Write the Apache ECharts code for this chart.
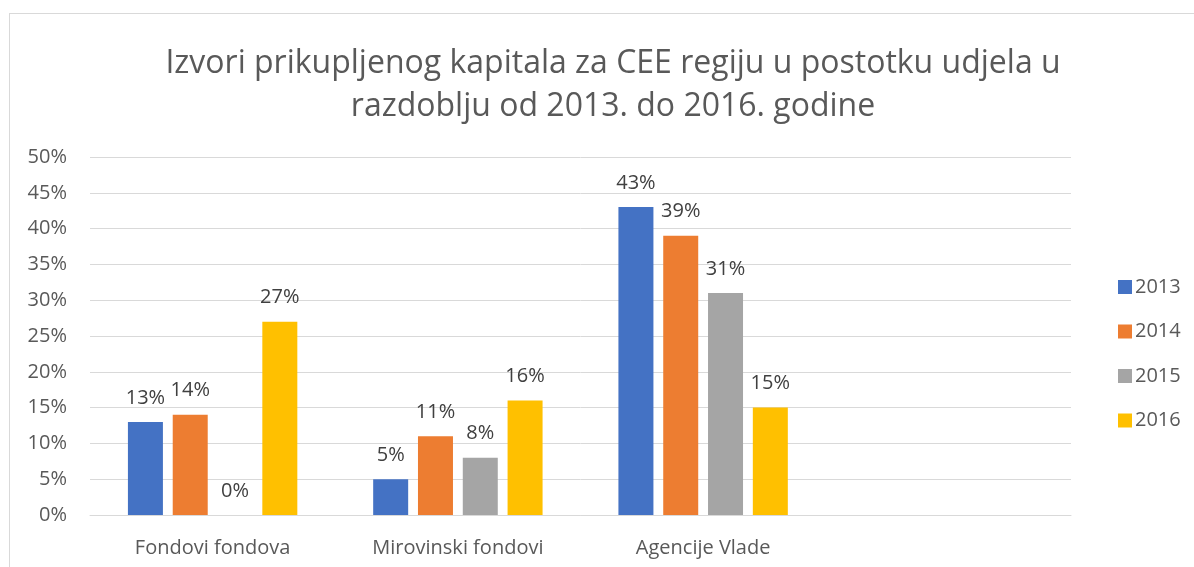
<!DOCTYPE html>
<html>
<head>
<meta charset="utf-8">
<script src="https://cdn.jsdelivr.net/npm/echarts@6/dist/echarts.min.js"></script>
<style>
    html, body { margin: 0; padding: 0; background: #fff; }
    #frame { position: absolute; left: 9px; top: 13px; width: 1300px; height: 700px; border: 1px solid #d9d9d9; }
    #chart { position: absolute; left: 0; top: 0; width: 1194px; height: 567px; }
</style>
</head>
<body>
<div id="frame"></div>
<div id="chart"></div>
<script>
// categories (the last slot is empty in the original chart)
let categories = ["Fondovi fondova", "Mirovinski fondovi", "Agencije Vlade", ""];
let years = ["2013", "2014", "2015", "2016"];
let values2013 = [13, 5, 43, null];
let values2014 = [14, 11, 39, null];
let values2015 = [0, 8, 31, null];
let values2016 = [27, 16, 15, null];
let colors = ["#4472C4", "#ED7D31", "#A5A5A5", "#FFC000"];

let chart = echarts.init(document.getElementById("chart"));
let font = "'Open Sans', 'Liberation Sans', sans-serif";

function makeSeries(name, data, color) {
    return {
        name: name,
        type: "bar",
        data: data,
        barWidth: 35,
        barGap: "28%",
        itemStyle: { color: color },
        label: {
            show: true,
            position: "top",
            distance: 14,
            formatter: "{c}%",
            color: "#404040",
            fontSize: 20,
            fontFamily: font
        }
    };
}

let option = {
    animation: false,
    title: {
        text: "Izvori prikupljenog kapitala za CEE regiju u postotku udjela u\nrazdoblju od 2013. do 2016. godine",
        left: 608,
        textAlign: "center",
        top: 37,
        textStyle: {
            color: "#595959",
            fontSize: 32,
            fontWeight: "normal",
            fontFamily: font,
            lineHeight: 43
        }
    },
    legend: {
        orient: "vertical",
        left: 1113,
        top: 272,
        itemWidth: 14,
        itemHeight: 14,
        itemGap: 24.5,
        icon: "rect",
        textStyle: { color: "#595959", fontSize: 20, lineHeight: 20, fontFamily: font, padding: [0, 0, 0, -2] },
        data: years
    },
    grid: { left: 90, right: 123, top: 157, bottom: 52 },
    xAxis: {
        type: "category",
        data: categories,
        axisLine: { lineStyle: { color: "#d9d9d9", width: 1 } },
        axisTick: { show: false },
        axisLabel: { color: "#595959", fontSize: 20, fontFamily: font, margin: 23 }
    },
    yAxis: {
        type: "value",
        min: 0,
        max: 50,
        interval: 5,
        axisLine: { show: false },
        axisTick: { show: false },
        splitLine: { lineStyle: { color: "#d9d9d9", width: 1 } },
        axisLabel: { color: "#595959", fontSize: 20, fontFamily: font, margin: 23, formatter: "{value}%" }
    },
    series: [
        makeSeries(years[0], values2013, colors[0]),
        makeSeries(years[1], values2014, colors[1]),
        makeSeries(years[2], values2015, colors[2]),
        makeSeries(years[3], values2016, colors[3])
    ]
};
chart.setOption(option);
</script>
</body>
</html>
